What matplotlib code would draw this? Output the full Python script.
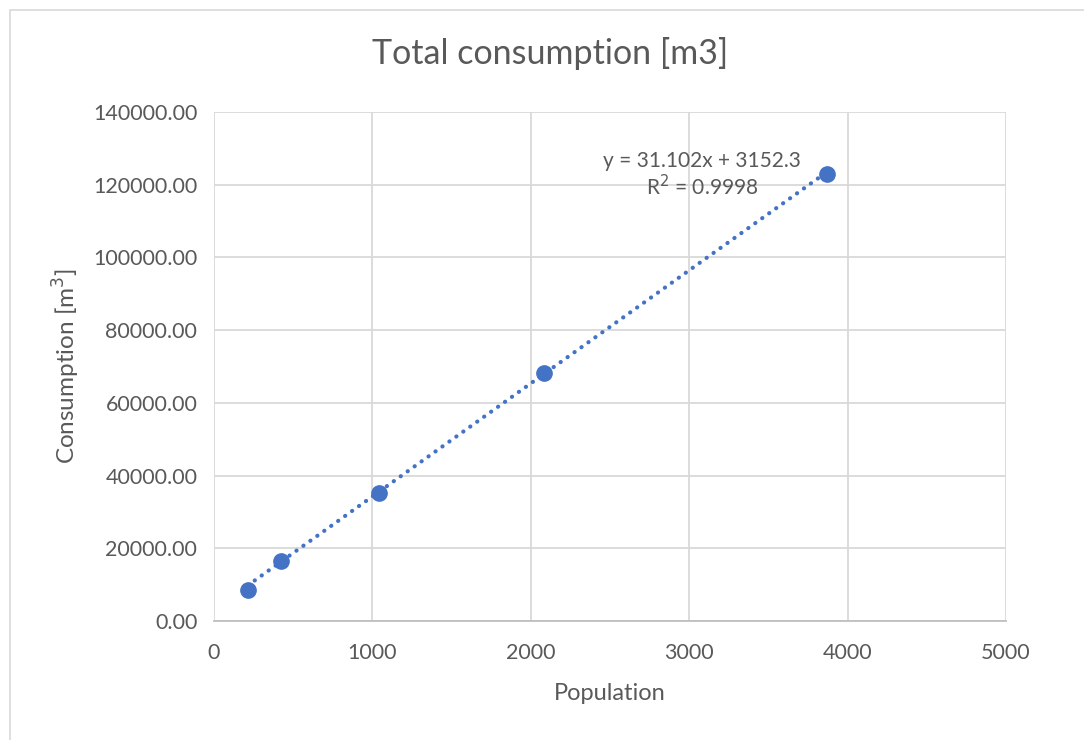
import numpy as np
import matplotlib
matplotlib.use('Agg')
import matplotlib.pyplot as plt
from matplotlib.patches import Rectangle
from matplotlib.ticker import FormatStrFormatter

# data
population = [213, 423, 1042, 2085, 3868]
consumption = [8450, 16450, 35300, 68300, 123000]
slope, intercept, r2 = 31.102, 3152.3, 0.9998

blue = '#4472C4'
grey = '#595959'
plt.rcParams['font.family'] = ['Lato', 'DejaVu Sans']

fig = plt.figure(figsize=(10.84, 7.4), dpi=100)
fig.patches.append(Rectangle((10/1084, -0.01), 1.1, (730/740)+0.01,
                             transform=fig.transFigure, fill=False,
                             edgecolor='#d9d9d9', lw=1.2))

ax = fig.add_axes([214/1084, 119/740, 792/1084, 509/740])

xx = np.array([min(population), max(population)])
ax.plot(xx, slope*xx + intercept, color=blue, lw=3,
        linestyle=(0, (0.05, 2.0)), dash_capstyle='round', zorder=2)
ax.plot(population, consumption, 'o', color=blue, markersize=11, zorder=3)

ax.set_xlim(0, 5000)
ax.set_ylim(0, 140000)
ax.set_xticks(range(0, 5001, 1000))
ax.set_yticks(range(0, 140001, 20000))
ax.yaxis.set_major_formatter(FormatStrFormatter('%.2f'))
ax.grid(True, color='#d9d9d9', lw=1.3)
ax.set_axisbelow(True)
for s in ['top', 'right', 'left']:
    ax.spines[s].set_visible(False)
ax.spines['bottom'].set_color('#bfbfbf')
ax.spines['bottom'].set_linewidth(1.3)
ax.tick_params(length=0, labelsize=15.5, labelcolor=grey, pad=12)
ax.tick_params(axis='x', pad=16)

ax.text(3081, 122700, 'y = 31.102x + 3152.3\nR$^2$ = 0.9998', ha='center',
        va='center', fontsize=15, color=grey, linespacing=1.15)

ax.set_xlabel('Population', fontsize=17, color=grey, labelpad=14)
ax.set_ylabel('Consumption [m$^3$]', fontsize=17.5, color=grey, labelpad=8)
fig.text(550/1084, 1 - 53/740, 'Total consumption [m3]', ha='center',
         va='center', fontsize=24.5, color=grey)

fig.savefig('out.png')
